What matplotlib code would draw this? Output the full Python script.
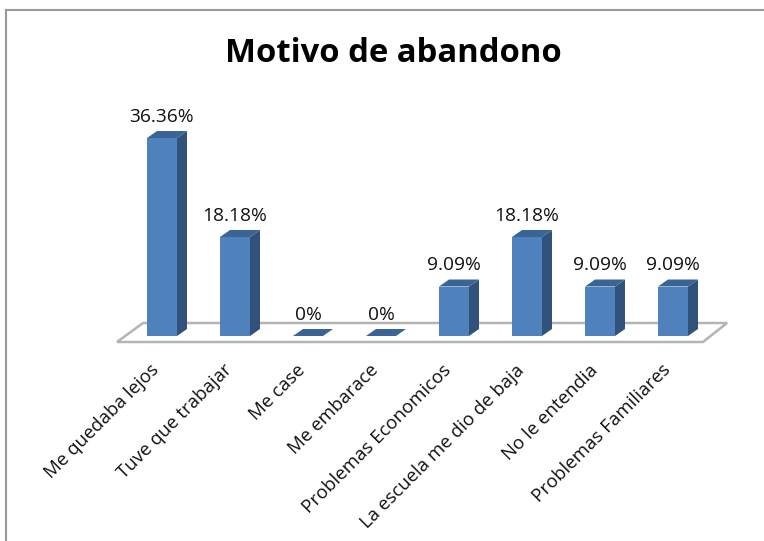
import matplotlib
matplotlib.use('Agg')
import matplotlib.pyplot as plt
from matplotlib.patches import Polygon

categories = ['Me quedaba lejos','Tuve que trabajar','Me case','Me embarace',
              'Problemas Economicos','La escuela me dio de baja','No le entendia','Problemas Familiares']
values = [36.36,18.18,0,0,9.09,18.18,9.09,9.09]
labels = ['36.36%','18.18%','0%','0%','9.09%','18.18%','9.09%','9.09%']

W,H = 764,541
x0,dx = 162.,73.      # pixel centre of first bar, spacing
y0,dy = 336.,5.445    # pixel of the baseline, pixels per percent

front = '#4f81bd'
side = '#31527a'
top = '#3a6496'
floor = '#b4b4b4'

plt.rcParams['font.family'] = ['Open Sans','DejaVu Sans']

fig = plt.figure(figsize=(W/100,H/100),dpi=100)
ax = fig.add_axes([0,0,1,1])
ax.set_xlim(-x0/dx,(W-x0)/dx)
ax.set_ylim(-(H-y0)/dy,y0/dy)
ax.axis('off')

wide = 30/dx
depX = 10/dx
depY = 7/dy

# outer frame of the screenshot
ax.plot([(5.5-x0)/dx,(5.5-x0)/dx],[-(H-y0)/dy,(y0-10)/dy],color='#999999',lw=1.5,zorder=1)
ax.plot([(5.5-x0)/dx,(W-x0)/dx],[(y0-10)/dy,(y0-10)/dy],color='#999999',lw=1.5,zorder=1)

# floor
fl = [(-45/dx,-6/dy),(-19/dx,13/dy),(565/dx,13/dy),(541/dx,-6/dy)]
ax.add_patch(Polygon(fl,closed=True,fc='white',ec=floor,lw=1.8,zorder=2))

for ix,(val,lab) in enumerate(zip(values,labels)):
    l = ix-wide/2
    r = ix+wide/2
    if val > 0:
        ax.add_patch(Polygon([(l,0),(r,0),(r,val),(l,val)],fc=front,ec='none',zorder=4))
        ax.add_patch(Polygon([(r,0),(r+depX,depY),(r+depX,val+depY),(r,val)],fc=side,ec='none',zorder=4))
    ax.add_patch(Polygon([(l,val),(r,val),(r+depX,val+depY),(l+depX,val+depY)],fc=top,ec='none',zorder=4))
    ax.text(ix,val+depY+0.95,lab,ha='center',va='bottom',fontsize=13.8,color='#111111',zorder=5)
    ax.text(ix-.16,-25/dy,categories[ix],rotation=45,rotation_mode='anchor',ha='right',va='top',
            fontsize=13.4,color='#111111',zorder=5)

ax.text((393-x0)/dx,(y0-54)/dy,'Motivo de abandono',ha='center',va='center',fontsize=23.6,
        fontweight='bold',color='black')

fig.savefig('out.png',dpi=100)
